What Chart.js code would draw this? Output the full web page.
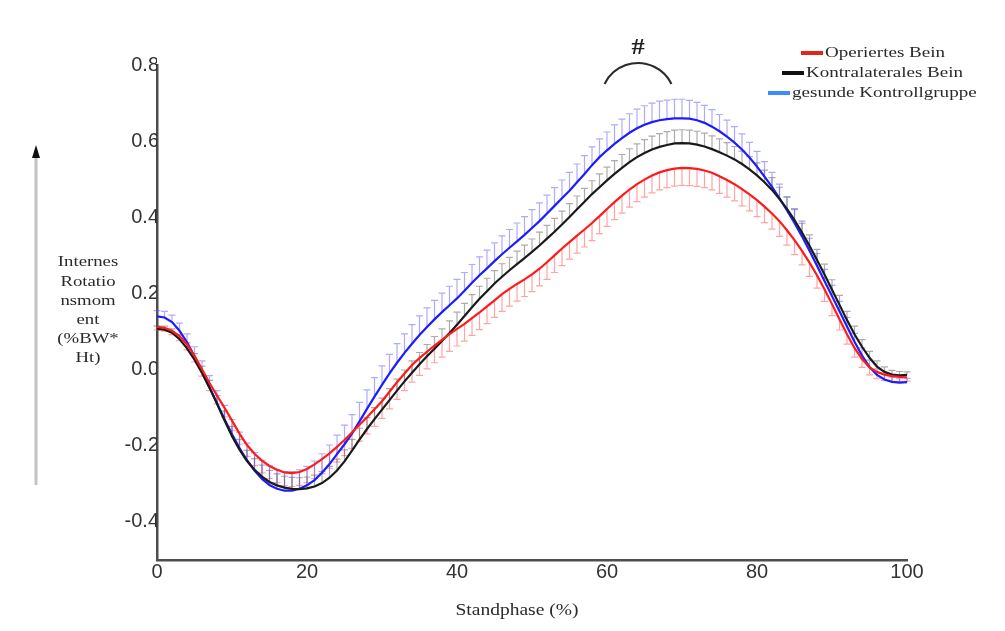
<!DOCTYPE html>
<html>
<head>
<meta charset="utf-8">
<script src="https://cdn.jsdelivr.net/npm/chart.js@4"></script>
<style>
  html, body { margin: 0; padding: 0; background: #fff; }
</style>
</head>
<body>
<canvas id="chart" width="1005" height="631"></canvas>
<script>
// stance phase (%)
var phase = [0,1,2,3,4,5,6,7,8,9,10,11,12,13,14,15,16,17,18,19,20,21,22,23,24,25,26,27,28,29,30,
  31,32,33,34,35,36,37,38,39,40,41,42,43,44,45,46,47,48,49,50,51,52,53,54,55,56,57,58,59,60,
  61,62,63,64,65,66,67,68,69,70,71,72,73,74,75,76,77,78,79,80,81,82,83,84,85,86,87,88,89,90,
  91,92,93,94,95,96,97,98,99,100];

// Operiertes Bein (mean, SD drawn downwards)
var operiert = [0.112,0.11,0.102,0.088,0.066,0.036,0.001,-0.035,-0.068,-0.1,-0.134,
  -0.168,-0.198,-0.221,-0.239,-0.253,-0.263,-0.27,-0.272,-0.269,-0.261,
  -0.249,-0.235,-0.22,-0.203,-0.185,-0.165,-0.145,-0.125,-0.104,-0.083,
  -0.058,-0.033,-0.01,0.012,0.03,0.047,0.063,0.078,0.093,0.107,
  0.12,0.135,0.15,0.166,0.182,0.198,0.212,0.225,0.237,0.25,
  0.265,0.282,0.3,0.318,0.335,0.352,0.368,0.385,0.403,0.422,
  0.44,0.457,0.473,0.487,0.499,0.51,0.518,0.524,0.528,0.53,
  0.529,0.527,0.523,0.517,0.508,0.498,0.487,0.474,0.46,0.445,
  0.428,0.41,0.39,0.366,0.34,0.312,0.281,0.248,0.211,0.172,
  0.132,0.093,0.057,0.028,0.006,-0.006,-0.013,-0.017,-0.019,-0.02];
var operiertSD = [0.008,0.009,0.01,0.012,0.014,0.016,0.018,0.02,0.022,0.024,0.026,
  0.028,0.03,0.031,0.032,0.033,0.034,0.035,0.035,0.035,0.036,
  0.037,0.038,0.039,0.04,0.041,0.042,0.043,0.044,0.045,0.045,
  0.045,0.045,0.045,0.045,0.045,0.045,0.045,0.045,0.045,0.045,
  0.045,0.045,0.045,0.045,0.045,0.045,0.045,0.045,0.045,0.045,
  0.045,0.045,0.045,0.045,0.045,0.046,0.046,0.046,0.046,0.046,
  0.046,0.046,0.046,0.046,0.046,0.046,0.046,0.046,0.046,0.046,
  0.046,0.046,0.045,0.045,0.045,0.045,0.044,0.044,0.043,0.043,
  0.042,0.041,0.04,0.039,0.038,0.037,0.036,0.034,0.032,0.03,
  0.028,0.026,0.024,0.022,0.02,0.018,0.016,0.014,0.012,0.01];

// Kontralaterales Bein (mean, SD drawn upwards)
var kontralateral = [0.107,0.105,0.097,0.08,0.056,0.026,-0.009,-0.048,-0.09,-0.133,-0.175,
  -0.21,-0.24,-0.263,-0.281,-0.295,-0.304,-0.31,-0.313,-0.314,-0.312,
  -0.307,-0.298,-0.284,-0.265,-0.241,-0.213,-0.184,-0.156,-0.13,-0.105,
  -0.08,-0.055,-0.031,-0.008,0.014,0.035,0.055,0.075,0.096,0.118,
  0.141,0.164,0.186,0.206,0.226,0.244,0.261,0.277,0.293,0.309,
  0.326,0.344,0.362,0.381,0.401,0.421,0.441,0.461,0.479,0.497,
  0.514,0.53,0.545,0.558,0.569,0.578,0.585,0.59,0.594,0.595,
  0.594,0.591,0.586,0.579,0.571,0.562,0.552,0.54,0.526,0.51,
  0.492,0.472,0.448,0.422,0.393,0.36,0.325,0.288,0.25,0.21,
  0.17,0.13,0.093,0.06,0.031,0.008,-0.006,-0.013,-0.015,-0.014];
var kontralateralSD = [0.008,0.009,0.01,0.012,0.014,0.016,0.018,0.02,0.022,0.024,0.026,
  0.027,0.028,0.029,0.03,0.03,0.03,0.03,0.03,0.03,0.03,
  0.03,0.03,0.03,0.03,0.03,0.03,0.03,0.03,0.03,0.03,
  0.03,0.03,0.03,0.031,0.031,0.031,0.032,0.032,0.032,0.033,
  0.033,0.033,0.033,0.034,0.034,0.034,0.034,0.034,0.034,0.034,
  0.035,0.035,0.035,0.035,0.035,0.035,0.035,0.035,0.035,0.035,
  0.035,0.035,0.035,0.035,0.035,0.035,0.035,0.035,0.035,0.035,
  0.035,0.035,0.035,0.035,0.035,0.034,0.034,0.034,0.033,0.033,
  0.032,0.032,0.031,0.031,0.03,0.03,0.029,0.028,0.027,0.026,
  0.025,0.023,0.021,0.019,0.017,0.015,0.013,0.011,0.01,0.008];

// gesunde Kontrollgruppe (mean, SD drawn upwards)
var kontrolle = [0.14,0.137,0.125,0.102,0.072,0.035,-0.005,-0.046,-0.088,-0.13,-0.17,
  -0.206,-0.238,-0.265,-0.287,-0.303,-0.313,-0.318,-0.318,-0.313,-0.304,
  -0.29,-0.271,-0.248,-0.222,-0.196,-0.168,-0.136,-0.103,-0.071,-0.04,
  -0.01,0.018,0.044,0.068,0.091,0.112,0.132,0.151,0.169,0.187,
  0.207,0.228,0.248,0.266,0.285,0.303,0.32,0.337,0.354,0.372,
  0.39,0.41,0.43,0.45,0.47,0.492,0.514,0.537,0.558,0.576,
  0.593,0.608,0.622,0.634,0.643,0.65,0.655,0.658,0.66,0.66,
  0.659,0.655,0.648,0.638,0.626,0.612,0.596,0.578,0.557,0.533,
  0.507,0.48,0.45,0.418,0.385,0.35,0.312,0.273,0.233,0.193,
  0.153,0.113,0.073,0.037,0.007,-0.014,-0.026,-0.032,-0.034,-0.033];
var kontrolleSD = [0.015,0.016,0.018,0.02,0.022,0.025,0.028,0.03,0.033,0.036,0.039,
  0.042,0.045,0.047,0.049,0.05,0.05,0.05,0.05,0.05,0.05,
  0.05,0.05,0.05,0.05,0.05,0.05,0.05,0.05,0.05,0.05,
  0.05,0.05,0.05,0.05,0.05,0.05,0.05,0.05,0.05,0.05,
  0.048,0.048,0.048,0.048,0.048,0.048,0.048,0.048,0.048,0.048,
  0.048,0.048,0.048,0.048,0.048,0.048,0.048,0.048,0.048,0.048,
  0.05,0.05,0.05,0.05,0.05,0.05,0.05,0.05,0.05,0.05,
  0.048,0.047,0.046,0.045,0.044,0.043,0.042,0.041,0.04,0.04,
  0.039,0.038,0.037,0.036,0.035,0.034,0.033,0.032,0.03,0.028,
  0.026,0.024,0.022,0.02,0.018,0.016,0.014,0.012,0.01,0.01];

var xTicks = [0, 20, 40, 60, 80, 100];
var yTicks = [-0.4, -0.2, 0, 0.2, 0.4, 0.6, 0.8];
var legendLabels = ['Operiertes Bein', 'Kontralaterales Bein', 'gesunde Kontrollgruppe'];
var yTitleLines = ['Internes', 'Rotatio', 'nsmom', 'ent', '(%BW*', 'Ht)'];

function points(values) {
  return phase.map(function(p, i) { return { x: p, y: values[i] }; });
}

// error bars: sd array, direction (+1 up, -1 down), colour
var errorInfo = [
  { sd: operiertSD, dir: -1, color: 'rgba(255,90,90,0.55)' },
  { sd: kontralateralSD, dir: 1, color: 'rgba(90,90,90,0.5)' },
  { sd: kontrolleSD, dir: 1, color: 'rgba(90,90,255,0.5)' }
];

var serif = '"Liberation Serif", "Times New Roman", serif';

function stretchText(ctx, text, x, y, font, sx, align) {
  ctx.save();
  ctx.font = font;
  ctx.textBaseline = 'middle';
  ctx.textAlign = 'left';
  var w = ctx.measureText(text).width * sx;
  var left = align === 'center' ? x - w / 2 : (align === 'right' ? x - w : x);
  ctx.translate(left, y);
  ctx.scale(sx, 1);
  ctx.fillText(text, 0, 0);
  ctx.restore();
}

var errorBars = {
  id: 'errorBars',
  beforeDatasetsDraw: function(chart) {
    var ctx = chart.ctx;
    var xs = chart.scales.x, ys = chart.scales.y;
    chart.data.datasets.forEach(function(ds, d) {
      var info = errorInfo[d];
      ctx.save();
      ctx.strokeStyle = info.color;
      ctx.lineWidth = 1.2;
      ds.data.forEach(function(pt, i) {
        var x = xs.getPixelForValue(pt.x);
        var y0 = ys.getPixelForValue(pt.y);
        var y1 = ys.getPixelForValue(pt.y + info.dir * info.sd[i]);
        ctx.beginPath();
        ctx.moveTo(x, y0);
        ctx.lineTo(x, y1);
        ctx.moveTo(x - 3.5, y1);
        ctx.lineTo(x + 3.5, y1);
        ctx.stroke();
      });
      ctx.restore();
    });
  }
};

var decorations = {
  id: 'decorations',
  afterDraw: function(chart) {
    var ctx = chart.ctx;
    ctx.save();

    // legend
    var swatch = [
      { x: 801, y: 53, c: '#e3261b' },
      { x: 782, y: 73, c: '#111111' },
      { x: 768, y: 93, c: '#3d8bff' }
    ];
    ctx.fillStyle = '#2a2a2a';
    swatch.forEach(function(s, i) {
      ctx.strokeStyle = s.c;
      ctx.lineWidth = 4;
      ctx.beginPath();
      ctx.moveTo(s.x, s.y);
      ctx.lineTo(s.x + 22, s.y);
      ctx.stroke();
      stretchText(ctx, legendLabels[i], s.x + 24, s.y, '15px ' + serif, 1.27, 'left');
    });

    // y axis title
    ctx.fillStyle = '#2a2a2a';
    var ly = [262, 282, 301, 320, 339, 358];
    yTitleLines.forEach(function(t, i) {
      stretchText(ctx, t, 88, ly[i], '15px ' + serif, 1.25, 'center');
    });

    // x axis title
    stretchText(ctx, 'Standphase (%)', 517, 611, '16px ' + serif, 1.22, 'center');

    // vertical arrow on the left
    ctx.strokeStyle = '#c4c4c4';
    ctx.lineWidth = 3;
    ctx.beginPath();
    ctx.moveTo(36, 485);
    ctx.lineTo(36, 156);
    ctx.stroke();
    ctx.fillStyle = '#111';
    ctx.beginPath();
    ctx.moveTo(36, 145);
    ctx.lineTo(40, 158);
    ctx.lineTo(32, 158);
    ctx.closePath();
    ctx.fill();

    // significance mark
    ctx.fillStyle = '#222';
    stretchText(ctx, '#', 638, 48, 'bold 24px ' + serif, 1.1, 'center');
    ctx.strokeStyle = '#2a2a2a';
    ctx.lineWidth = 2;
    ctx.beginPath();
    ctx.arc(638, 100.2, 37.2, -2.69, -0.451);
    ctx.stroke();

    ctx.restore();
  }
};

function lineSet(values, color) {
  return {
    data: points(values),
    borderColor: color,
    borderWidth: 2.2,
    pointRadius: 0,
    fill: false,
    tension: 0
  };
}

var tickFont = { family: '"Liberation Sans", Arial, sans-serif', size: 20 };

new Chart(document.getElementById('chart').getContext('2d'), {
  type: 'line',
  data: {
    datasets: [
      lineSet(operiert, '#ff1a1a'),
      lineSet(kontralateral, '#1a1a1a'),
      lineSet(kontrolle, '#1c1cff')
    ]
  },
  options: {
    responsive: false,
    animation: false,
    layout: { padding: { top: 65, right: 98, bottom: 0, left: 0 } },
    plugins: {
      legend: { display: false },
      tooltip: { enabled: false }
    },
    scales: {
      x: {
        type: 'linear',
        min: 0,
        max: 100,
        afterBuildTicks: function(scale) {
          scale.ticks = xTicks.map(function(v) { return { value: v }; });
        },
        afterFit: function(scale) { scale.height = 71; },
        grid: { display: false, drawTicks: false },
        border: { color: '#4d4d4d', width: 2.5 },
        ticks: { color: '#333', font: tickFont, padding: 0, maxRotation: 0 }
      },
      y: {
        type: 'linear',
        min: -0.5,
        max: 0.8,
        afterBuildTicks: function(scale) {
          scale.ticks = yTicks.map(function(v) { return { value: v }; });
        },
        afterFit: function(scale) { scale.width = 157; },
        grid: { display: false, drawTicks: false },
        border: { color: '#4d4d4d', width: 2.5 },
        ticks: {
          color: '#333',
          font: tickFont,
          padding: -2,
          callback: function(v) { return Number(v).toFixed(1); }
        }
      }
    }
  },
  plugins: [errorBars, decorations]
});
</script>
</body>
</html>
